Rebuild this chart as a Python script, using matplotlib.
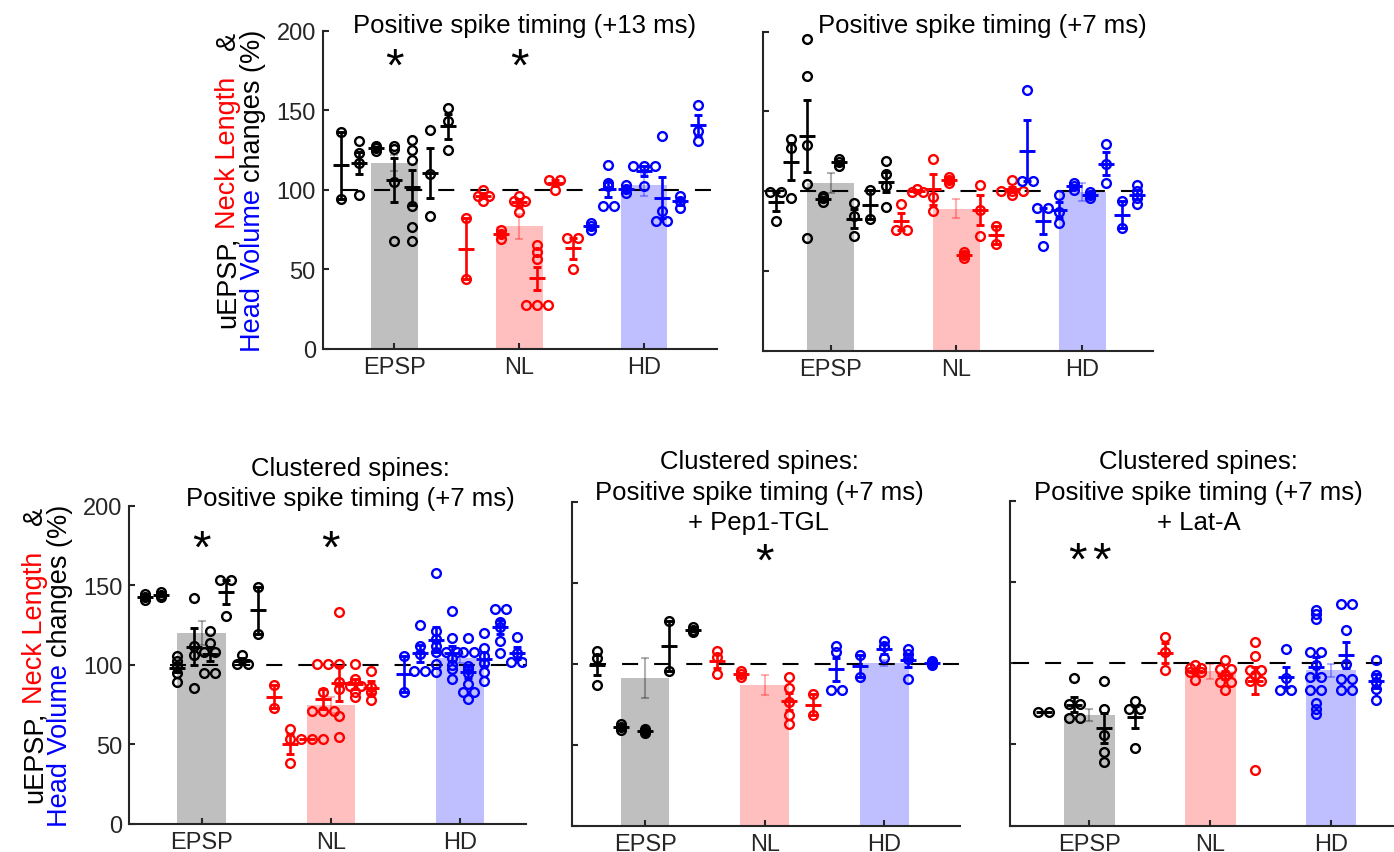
import numpy as np
import matplotlib
matplotlib.use("Agg")
import matplotlib.pyplot as plt

plt.rcParams['font.family'] = ['Liberation Sans', 'DejaVu Sans']

# ---------------------------------------------------------------- data
categories = ["EPSP", "NL", "HD"]
point_colors = ["k", "r", "b"]
bar_colors = [(0.75, 0.75, 0.75), (1.0, 0.75, 0.75), (0.75, 0.75, 1.0)]

# Positive spike timing (+13 ms): one list per cell
tl_epsp = [[136.5, 94.2], [130.5, 122.9, 117, 97], [124.5, 126, 127.5],
           [127.5, 125.5, 104.7, 68], [131.5, 125, 119, 90, 76.4, 68],
           [137.6, 110, 83.8], [151.4, 143.4, 125.2]]
tl_nl = [[82.1, 44], [99.9, 96.3, 96.3, 93.2], [69, 72, 75],
         [96.3, 93.2, 93.2, 86.3], [65.3, 60.7, 56.5, 27.8, 27.8, 27.8],
         [106.4, 106.4, 100], [69.7, 69.7, 50.3]]
tl_hd = [[75, 77, 79], [115.6, 104.3, 102.6, 90, 90], [98, 100.5, 103],
         [115.3, 115.3, 115.3, 102.6], [133.6, 86.5, 80.2, 80.2],
         [96.3, 93.2, 88.6], [153.5, 137.2, 130.7]]
tl_bar = [116.8, 77.0, 103.0]
tl_sem = [5.2, 8.0, 6.8]

# Positive spike timing (+7 ms)
tr_epsp = [[99.5, 99.5, 81.5], [132.7, 127, 95.7], [195.6, 172.4, 129.2, 104.5, 70.6],
           [93.5, 95.5, 97], [116, 118, 120], [92.6, 84.2, 71.7], [100.5, 82.8],
           [118.7, 111, 103, 90]]
tr_nl = [[92.2, 75.5, 75.5], [101.5, 99.5, 99.5], [120.2, 96.1, 87.8], [105, 107, 109],
         [58, 60, 62], [104.1, 88, 72.1], [78, 67.1], [107.2, 100.3, 100.3, 100.3, 97.4]]
tr_hd = [[163.4, 106.5, 106.5], [89.5, 89.5, 65.4], [97.4, 86.7, 80.1], [101, 103, 105],
         [95.5, 97.5, 99.5], [129.8, 117.2, 105.1], [93.6, 76.9], [104, 100, 95.7, 92]]
tr_bar = [105.1, 89.0, 99.5]
tr_sem = [6.5, 6.0, 5.7]

# Clustered spines: positive spike timing (+7 ms)
bl_epsp = [[140.5, 142.5, 144.5], [142.5, 144, 145.5], [105.7, 102.6, 99, 94.9, 89.4],
           [142, 112, 106.2, 85.4], [121, 114, 108, 108, 95, 95], [153.5, 153.5, 130.9],
           [106.4, 100.3, 100.3], [149, 119.4]]
bl_nl = [[87.5, 72.7], [59.7, 53.4, 38.1], [53.4, 53.4],
         [100.5, 100.5, 82.7, 70.8, 70.8, 70.8, 53.4], [133.4, 100.5, 89, 85, 68, 54.5],
         [100.5, 91, 86.5, 86.5, 83, 80], [96.3, 86, 82.9, 77.7], []]
bl_hd = [[105.7, 83.1], [125, 112, 106.8, 96, 96],
         [157.7, 121, 116.2, 112, 107.8, 100.5, 95.7],
         [133.6, 116.6, 107.8, 107.8, 104, 100, 97.4, 91.1],
         [116.6, 107.8, 107.8, 99, 97.4, 95, 88, 82.7, 82.7, 78.5],
         [120, 110.4, 105.7, 101, 95.3, 90], [135, 135, 126.7, 123.5, 115.2, 107.4],
         [117.7, 107.4, 102, 102]]
bl_bar = [120.0, 74.8, 104.0]
bl_sem = [7.5, 5.0, 3.0]

# Clustered spines + Pep1-TGL
bm_epsp = [[107.6, 103.3, 86.8], [59, 61, 63], [57.5, 58.7, 60], [126.6, 95.7],
           [119.5, 121, 122.5]]
bm_nl = [[108, 103.9, 93.6], [92, 93.6, 95.2], [], [92, 84.8, 76.6, 68.3, 62.8],
         [81.3, 68.3]]
bm_hd = [[110.7, 107.4, 84, 84], [105.6, 91.6], [113.8, 111, 103.3],
         [109, 105.9, 102.9, 90.6], [99.5, 100.5, 101.5]]
bm_bar = [91.0, 86.8, 100.4]
bm_sem = [12.4, 6.1, 2.0]

# Clustered spines + Lat-A
br_epsp = [[70, 70], [90.6, 75, 75, 66, 66], [88.9, 71.6, 55.6, 45.3, 39.1],
           [76.6, 71.6, 71.6, 47.7]]
br_nl = [[116.3, 107, 95.7], [99, 97, 97, 94.5, 94.5, 89.7],
         [102, 96.7, 96.7, 92.5, 88.7, 88.7, 83.3],
         [112.8, 104.5, 95.7, 95.7, 92.6, 89, 89, 34]]
br_hd = [[108.5, 90.6, 83.4, 83.4],
         [133, 130.5, 127.5, 106.6, 106.6, 98.8, 91.6, 91.6, 83.4, 83.4, 75.5, 72, 68.5],
         [136.5, 136.5, 120.4, 99.4, 90.1, 90.1, 83.4, 83.4],
         [101.9, 93, 88.5, 84.4, 77.2]]
br_bar = [68.3, 95.0, 95.7]
br_sem = [3.6, 4.5, 4.0]

# ---------------------------------------------------------------- layout
W, H = 1394, 853
AX_COLOR = "#262626"
TICK_FS = 17
TITLE_FS = 18.5
LABEL_FS = 19.5
STAR_FS = 34
STAR_SPACING_PT = 17.5

panels = [
    dict(data=(tl_epsp, tl_nl, tl_hd), bar=tl_bar, sem=tl_sem,
         box=(322.7, 716.7, 31.7, 350.0), xlim=(0.4265, 3.582), barw=0.375, dash0=0.58,
         title=["Positive spike timing (+13 ms)"], title_x=525, title_y=[33],
         stars=[(1, 183, 1), (2, 183, 1)], ylabels=True),
    dict(data=(tr_epsp, tr_nl, tr_hd), bar=tr_bar, sem=tr_sem,
         box=(762.7, 1153.0, 32.7, 351.7), xlim=(0.4595, 3.562), barw=0.371, dash0=0.5,
         title=["Positive spike timing (+7 ms)"], title_x=982, title_y=[33],
         stars=[], ylabels=False),
    dict(data=(bl_epsp, bl_nl, bl_hd), bar=bl_bar, sem=bl_sem,
         box=(129.3, 526.0, 506.7, 825.0), xlim=(0.4394, 3.511), barw=0.377, dash0=0.754,
         title=["Clustered spines:", "Positive spike timing (+7 ms)"], title_x=350,
         title_y=[476, 506], stars=[(1, 179, 1), (2, 179, 1)], ylabels=True),
    dict(data=(bm_epsp, bm_nl, bm_hd), bar=bm_bar, sem=bm_sem,
         box=(571.7, 960.0, 502.7, 826.7), xlim=(0.387, 3.633), barw=0.405, dash0=0.54,
         title=["Clustered spines:", "Positive spike timing (+7 ms)", "+ Pep1-TGL"],
         title_x=759, title_y=[469, 500, 530], stars=[(2, 168.7, 1)], ylabels=False),
    dict(data=(br_epsp, br_nl, br_hd), bar=br_bar, sem=br_sem,
         box=(1010.0, 1394.0, 501.7, 826.7), xlim=(0.344, 3.521), barw=0.42, dash0=0.37,
         title=["Clustered spines:", "Positive spike timing (+7 ms)", "+ Lat-A"],
         title_x=1198.5, title_y=[469, 500, 530], stars=[(1, 168.7, 2)], ylabels=False),
]

fig = plt.figure(figsize=(W / 100, H / 100), dpi=100)


def swarm_offsets(vals, step, tol=1.0):
    """Spread tied values side by side, keep the rest on the group axis."""
    vals = np.asarray(vals, float)
    order = np.argsort(vals)
    sv = vals[order]
    offs = np.zeros(len(vals))
    i = 0
    while i < len(sv):
        j = i
        while j + 1 < len(sv) and sv[j + 1] - sv[i] < tol:
            j += 1
        k = j - i + 1
        for m in range(k):
            offs[order[i + m]] = (m - (k - 1) / 2) * step
        i = j + 1
    return offs


def draw_panel(p):
    left, right, top, bottom = p["box"]
    ax = fig.add_axes([left / W, 1 - bottom / H, (right - left) / W, (bottom - top) / H])
    ax.set_xlim(*p["xlim"])
    ax.set_ylim(0, 200)
    xs = np.arange(1, 4)
    px_per_unit = (right - left) / (p["xlim"][1] - p["xlim"][0])
    step = 11.0 / px_per_unit

    ax.bar(xs, p["bar"], width=p["barw"], color=bar_colors, zorder=1)
    for i in range(3):
        ax.errorbar(xs[i], p["bar"][i], yerr=p["sem"][i], color=point_colors[i],
                    alpha=0.3, lw=1.5, capsize=3, capthick=1.5, zorder=2)
    ax.plot([p["dash0"], p["xlim"][1]], [100, 100], color="k", lw=1.5,
            linestyle=(0, (7.7, 7.7)), zorder=2.5, solid_capstyle="butt")

    for i, groups in enumerate(p["data"]):
        n = len(groups)
        for g, vals in enumerate(groups):
            if len(vals) == 0:
                continue
            xc = xs[i] + (g - (n - 1) / 2) / n
            offs = swarm_offsets(vals, step)
            ax.plot(xc + offs, vals, "o", mfc="none", mec=point_colors[i], ms=6.3,
                    mew=1.7, zorder=3)
            m = np.mean(vals)
            s = np.std(vals, ddof=1) / np.sqrt(len(vals)) if len(vals) > 1 else 0
            ax.errorbar(xc, m, yerr=s, fmt="_", color=point_colors[i], ms=11, mew=2.1,
                        elinewidth=1.9, capsize=3, capthick=1.9, zorder=4)

    for cat, yv, count in p["stars"]:
        for k in range(count):
            dx = (k - (count - 1) / 2) * STAR_SPACING_PT
            ax.annotate("*", (cat, yv), xytext=(dx, -0.47 * STAR_FS),
                        textcoords="offset points", ha="center", va="baseline",
                        fontsize=STAR_FS, color="k", zorder=6)

    for side in ("top", "right"):
        ax.spines[side].set_visible(False)
    for side in ("left", "bottom"):
        ax.spines[side].set_linewidth(1.5)
        ax.spines[side].set_color(AX_COLOR)
    ax.set_yticks([0, 50, 100, 150, 200])
    ax.set_xticks(xs, categories)
    ax.tick_params(direction="in", length=4, width=1.5, color=AX_COLOR,
                   labelcolor=AX_COLOR, labelsize=TICK_FS, pad=5)
    if not p["ylabels"]:
        ax.set_yticklabels([])

    for line, yb in zip(p["title"], p["title_y"]):
        fig.text(p["title_x"] / W, 1 - yb / H, line, ha="center", va="baseline",
                 fontsize=TITLE_FS, color="k")
    return ax


renderer = fig.canvas.get_renderer()


def text_width(s):
    t = fig.text(0, 0, s, fontsize=LABEL_FS)
    w = t.get_window_extent(renderer).width
    t.remove()
    return w


def colored_vertical_line(x_px, yc_px, pieces, gaps=None):
    """Stack coloured pieces of one rotated label line from bottom to top."""
    gaps = gaps or [0.0] * (len(pieces) - 1)
    full = "".join(s for s, _ in pieces)
    total = text_width(full) + sum(gaps)
    y0 = yc_px - total / 2
    pos = 0
    extra = 0.0
    for k, (s, c) in enumerate(pieces):
        lead = len(s) - len(s.lstrip())
        start = pos + lead
        body = s.strip()
        off = text_width(full[:start] + body[0]) - text_width(body[0]) if start > 0 else 0
        fig.text(x_px / W, (y0 + off + extra) / H, body, rotation=90,
                 rotation_mode="anchor", ha="left", va="center", fontsize=LABEL_FS, color=c)
        if k < len(gaps):
            extra += gaps[k]
        pos += len(s)


ylabel_line1 = [("uEPSP, ", "k"), ("Neck Length", "r"), (" &", "k")]
ylabel_line2 = [("Head Volume", "b"), (" changes (%)", "k")]

for p in panels:
    draw_panel(p)
    if p["ylabels"]:
        left, right, top, bottom = p["box"]
        yc = H - (top + bottom) / 2
        colored_vertical_line(left - 94.7, yc + 11, ylabel_line1, gaps=[0, 20])
        colored_vertical_line(left - 69.7, yc, ylabel_line2)

fig.savefig("out.png", dpi=100)
